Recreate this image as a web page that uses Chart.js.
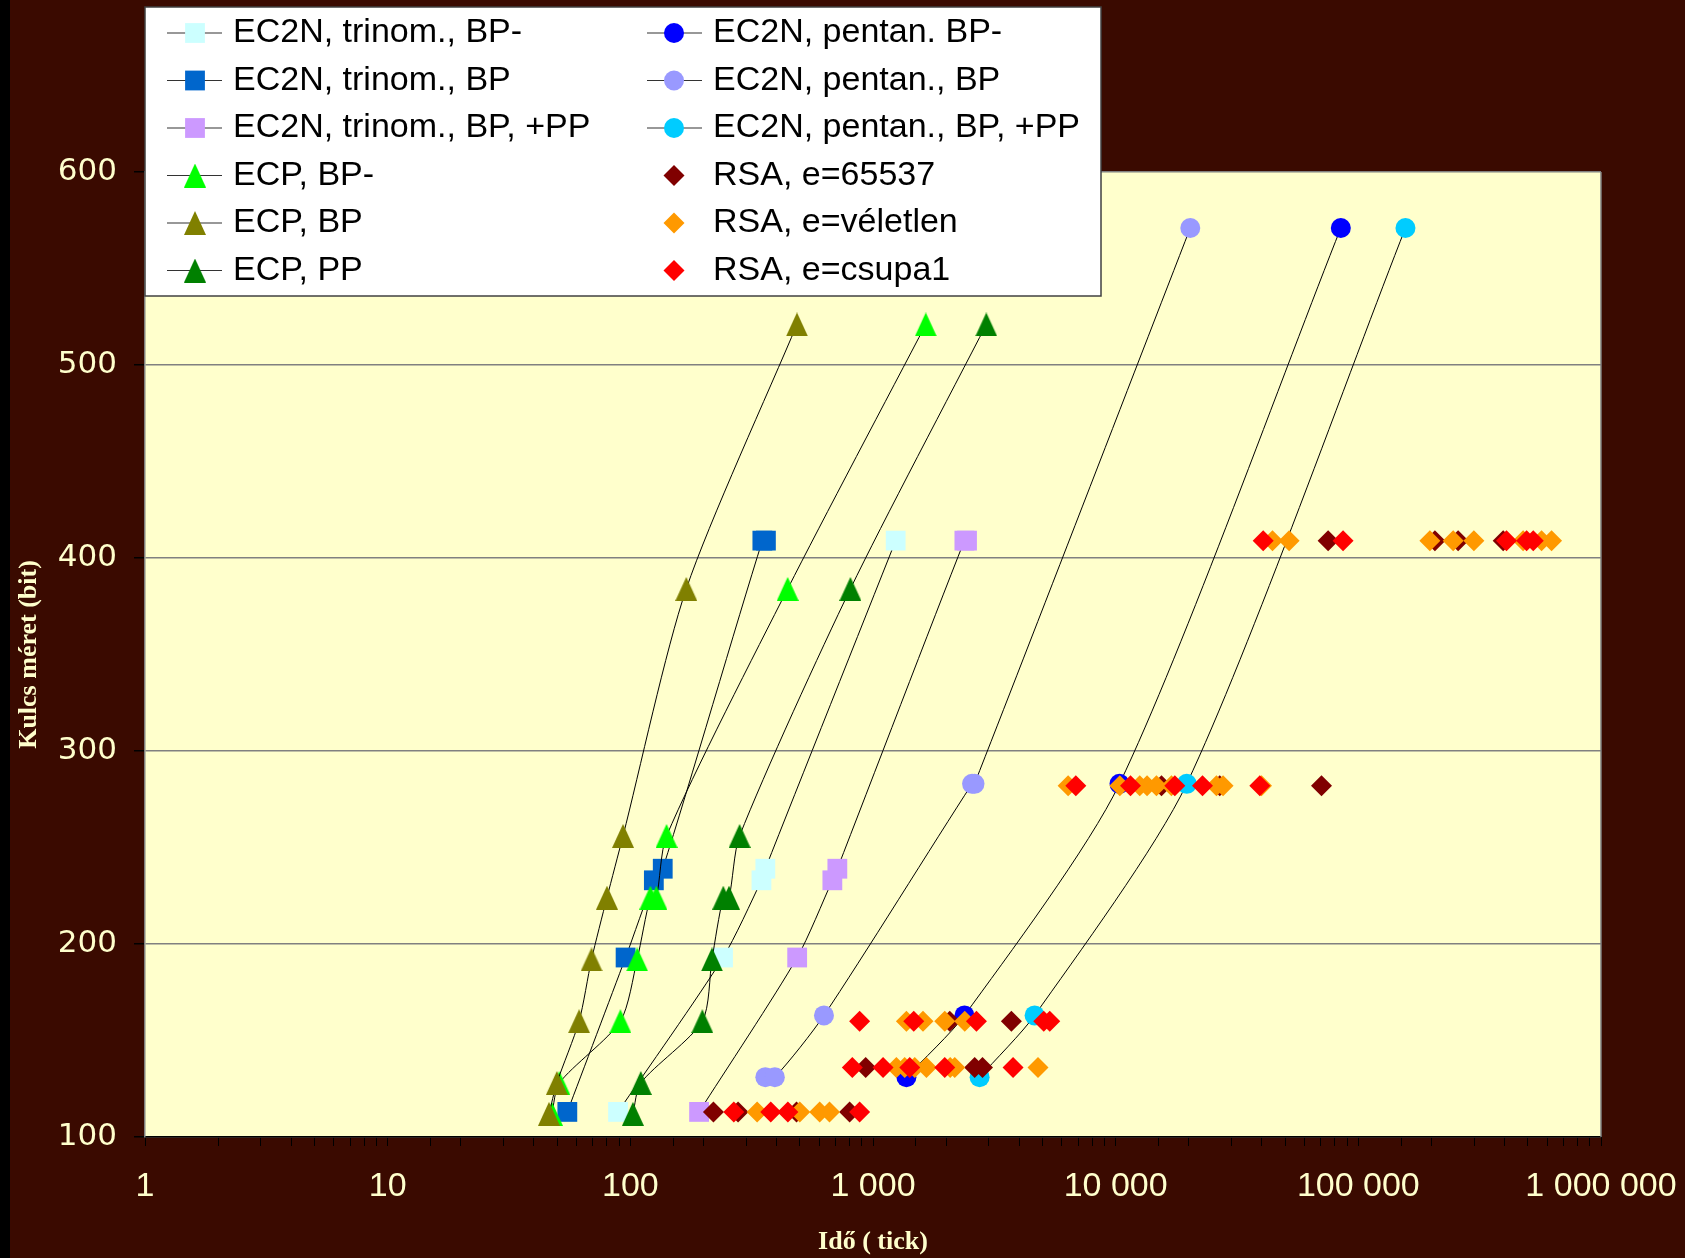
<!DOCTYPE html>
<html><head><meta charset="utf-8">
<script src="https://cdn.jsdelivr.net/npm/chart.js@4"></script>
<style>html,body{margin:0;padding:0;background:#3A0A00;overflow:hidden}#wrap{width:1685px;height:1258px;position:relative}</style>
</head><body><div id="wrap"><canvas id="c"></canvas></div>
<script>
// ---- data (key size in bits, time in ticks) ----
const trinomBPm_size = [113, 193, 233, 239, 409];
const trinomBPm_time = [89, 241, 347, 360, 1240];
const trinomBP_size = [113, 193, 233, 239, 409, 409];
const trinomBP_time = [55, 95.6, 125, 136, 350, 362];
const trinomPP_size = [113, 193, 233, 239, 409, 409];
const trinomPP_time = [192, 487, 680, 713, 2380, 2440];
const ecpBPm_size = [112, 128, 160, 192, 224, 224, 256, 384, 521];
const ecpBPm_time = [47.5, 51, 91, 106.7, 121, 128, 141, 445, 1650];
const ecpBP_size = [112, 128, 160, 192, 224, 256, 384, 521];
const ecpBP_time = [46.2, 49.8, 61.5, 69.2, 80.1, 93.3, 170, 486];
const ecpPP_size = [112, 128, 160, 192, 224, 224, 256, 384, 521];
const ecpPP_time = [102.5, 110.4, 198, 217, 241.5, 255, 282, 807, 2930];
const pentanBPm_size = [131, 163, 283, 571];
const pentanBPm_time = [1373, 2382, 10370, 84700];
const pentanBP_size = [131, 131, 163, 283, 283, 571];
const pentanBP_time = [360, 394, 628, 2560, 2620, 20300];
const pentanPP_size = [131, 163, 283, 571];
const pentanPP_time = [2750, 4634, 19630, 156400];
const rsaFix_size = [113, 113, 113, 113, 136, 136, 136, 160, 160, 282, 282, 282, 409, 409, 409, 409];
const rsaFix_time = [220, 278, 484, 801, 933, 2625, 2826, 2071, 3718, 15450, 26850, 70500, 75100, 206800, 257800, 395200];
const rsaRnd_size = [113, 113, 113, 113, 136, 136, 136, 136, 136, 136, 136, 160, 160, 160, 160, 282, 282, 282, 282, 282, 282, 282, 282, 282, 409, 409, 409, 409, 409, 409, 409, 409];
const rsaRnd_time = [333, 499, 603, 662, 1248, 1351, 1486, 1660, 2080, 2172, 4786, 1373, 1607, 1976, 2388, 6368, 10400, 12570, 13470, 14720, 16980, 26020, 27700, 39900, 44300, 51850, 197200, 246000, 299300, 477600, 569000, 625700];
const rsaOnes_size = [113, 113, 113, 113, 136, 136, 136, 136, 136, 160, 160, 160, 160, 160, 282, 282, 282, 282, 282, 409, 409, 409, 409, 409];
const rsaOnes_time = [267, 379, 446, 881, 822, 1100, 1417, 1976, 3777, 881, 1472, 2669, 5055, 5350, 6850, 11510, 17530, 22800, 39260, 40550, 86500, 408000, 493700, 525800];
const seriesNames = ['EC2N, trinom., BP-', 'EC2N, trinom., BP', 'EC2N, trinom., BP, +PP', 'ECP, BP-', 'ECP, BP', 'ECP, PP',
  'EC2N, pentan. BP-', 'EC2N, pentan., BP', 'EC2N, pentan., BP, +PP', 'RSA, e=65537', 'RSA, e=véletlen', 'RSA, e=csupa1'];
const yTicks = [100, 200, 300, 400, 500, 600];
const xTickLabels = ['1', '10', '100', '1 000', '10 000', '100 000', '1 000 000'];

function pts(t, s) { return t.map((v, i) => ({x: v, y: s[i]})); }
function makeTri(color) {
  const c = document.createElement('canvas'); c.width = 22; c.height = 24;
  const g = c.getContext('2d'); g.fillStyle = color;
  g.beginPath(); g.moveTo(11, 0); g.lineTo(22, 24); g.lineTo(0, 24); g.closePath(); g.fill();
  return c;
}
function ds(i, t, s, color, style, r, line, order) {
  return {label: seriesNames[i], data: pts(t, s), showLine: line, borderColor: '#000', borderWidth: 1, tension: 0.25,
    backgroundColor: color, pointBackgroundColor: color, pointBorderColor: color, pointBorderWidth: 0,
    pointStyle: style, pointRadius: r, pointHoverRadius: r, order: order, fill: false};
}
const datasets = [
  ds(0, trinomBPm_time, trinomBPm_size, '#CCFFFF', 'rect', 14, true, 12),
  ds(1, trinomBP_time, trinomBP_size, '#0066CC', 'rect', 14, true, 11),
  ds(2, trinomPP_time, trinomPP_size, '#CC99FF', 'rect', 14, true, 10),
  ds(3, ecpBPm_time, ecpBPm_size, '#00FF00', makeTri('#00FF00'), 12, true, 6),
  ds(4, ecpBP_time, ecpBP_size, '#808000', makeTri('#808000'), 12, true, 5),
  ds(5, ecpPP_time, ecpPP_size, '#008000', makeTri('#008000'), 12, true, 4),
  ds(6, pentanBPm_time, pentanBPm_size, '#0000FF', 'circle', 10, true, 9),
  ds(7, pentanBP_time, pentanBP_size, '#9999FF', 'circle', 10, true, 8),
  ds(8, pentanPP_time, pentanPP_size, '#00CCFF', 'circle', 10, true, 7),
  ds(9, rsaFix_time, rsaFix_size, '#800000', 'rectRot', 10.5, false, 3),
  ds(10, rsaRnd_time, rsaRnd_size, '#FF9900', 'rectRot', 10.5, false, 2),
  ds(11, rsaOnes_time, rsaOnes_size, '#FF0000', 'rectRot', 10.5, false, 1)
];

const framePlugin = {
  id: 'frame',
  beforeDraw(chart) {
    const {ctx, width, height, chartArea: a} = chart;
    ctx.save();
    ctx.fillStyle = '#3A0A00'; ctx.fillRect(0, 0, width, height);
    ctx.fillStyle = '#000'; ctx.fillRect(0, 0, 10, height);
    ctx.fillStyle = '#FFFFCC'; ctx.fillRect(a.left, a.top, a.right - a.left, a.bottom - a.top);
    ctx.restore();
  },
  beforeDatasetsDraw(chart) {
    const {ctx, chartArea: a} = chart;
    ctx.save(); ctx.strokeStyle = '#808080'; ctx.lineWidth = 1.5;
    ctx.beginPath(); ctx.moveTo(a.right, a.top); ctx.lineTo(a.right, a.bottom); ctx.stroke();
    ctx.restore();
  },
  afterDraw(chart) {
    const ctx = chart.ctx;
    ctx.save();
    ctx.fillStyle = '#FFFFFF'; ctx.fillRect(145, 7, 956, 289);
    ctx.strokeStyle = '#404040'; ctx.lineWidth = 1.5; ctx.strokeRect(145, 7, 956, 289);
    ctx.font = '34px "Liberation Sans", Arial, sans-serif';
    ctx.textBaseline = 'middle'; ctx.textAlign = 'left';
    chart.data.datasets.forEach((d, i) => {
      const col = Math.floor(i / 6), row = i % 6;
      const y = 33 + row * 47.5;
      const lx = col ? 647 : 167, mx = col ? 674 : 195, tx = col ? 713 : 233;
      if (d.showLine) {
        ctx.strokeStyle = '#333'; ctx.lineWidth = 1.2;
        ctx.beginPath(); ctx.moveTo(lx, y); ctx.lineTo(lx + 55, y); ctx.stroke();
      }
      ctx.fillStyle = d.pointBackgroundColor;
      Chart.helpers.drawPoint(ctx, {pointStyle: d.pointStyle, radius: d.pointRadius, rotation: 0, borderWidth: 0}, mx, y);
      ctx.fillStyle = '#000';
      ctx.fillText(d.label, tx, y);
    });
    ctx.restore();
  }
};

function isPow10(v) { const l = Math.log10(v); return Math.abs(l - Math.round(l)) < 1e-9; }

new Chart(document.getElementById('c'), {
  type: 'scatter',
  data: {datasets: datasets},
  plugins: [framePlugin],
  options: {
    responsive: true, maintainAspectRatio: false, animation: false, devicePixelRatio: 1,
    layout: {padding: {top: 172, right: 84, left: 0, bottom: 0}},
    plugins: {legend: {display: false}, tooltip: {enabled: false}},
    events: [],
    scales: {
      x: {
        type: 'logarithmic', min: 1, max: 1000000, position: 'bottom',
        afterFit(s) { s.height = 121; s.paddingLeft = 0; s.paddingRight = 0; },
        grid: {drawOnChartArea: false, drawTicks: true, tickLength: 9, tickColor: '#000', tickWidth: 1},
        border: {display: true, color: '#000', width: 1.5},
        ticks: {autoSkip: false, maxRotation: 0, minRotation: 0, padding: 20, color: '#FFFFCC',
          font: {family: '"Liberation Sans", Arial', size: 34},
          callback: (v) => isPow10(v) ? xTickLabels[Math.round(Math.log10(v))] : ''},
        title: {display: true, text: 'Idő ( tick)', color: '#FFFFCC',
          font: {family: '"Liberation Serif", "Times New Roman"', size: 26, weight: 'bold'}, padding: {top: 0, bottom: 0}}
      },
      y: {
        type: 'linear', min: 100, max: 600,
        afterFit(s) { s.width = 145; s.paddingTop = 0; s.paddingBottom = 0; },
        afterBuildTicks(s) { s.ticks = yTicks.map(v => ({value: v})); },
        grid: {color: '#808080', lineWidth: 1.5, tickColor: '#000', tickLength: 11},
        border: {color: '#808080', width: 1.5},
        ticks: {padding: 17, color: '#FFFFCC', font: {family: '"DejaVu Sans"', size: 31}},
        title: {display: true, text: 'Kulcs méret (bit)', color: '#FFFFCC',
          font: {family: '"Liberation Serif", "Times New Roman"', size: 26, weight: 'bold'}, padding: {top: 14, bottom: 0}}
      }
    }
  }
});
</script></body></html>
